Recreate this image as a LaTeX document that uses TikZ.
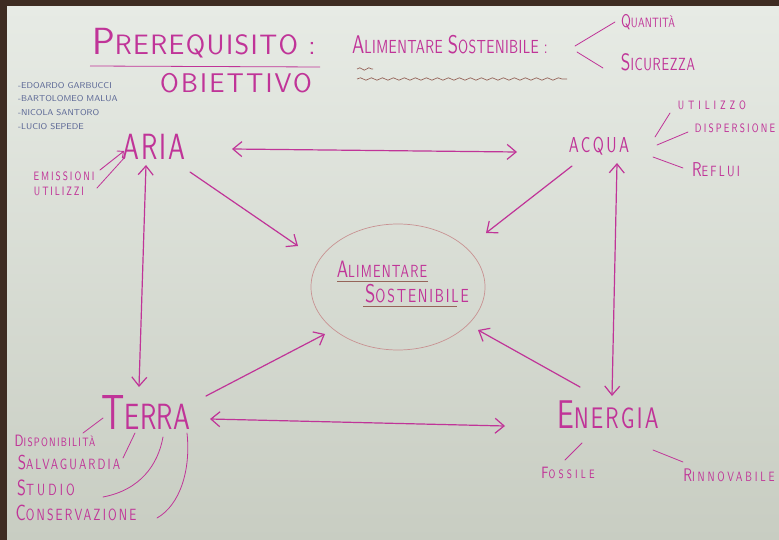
\documentclass[tikz,border=0pt]{standalone}
\usepackage{fontspec}
\setsansfont{Latin Modern Sans}
\usetikzlibrary{arrows.meta}
\usetikzlibrary{shapes.geometric}
\usetikzlibrary{decorations.pathmorphing}

\definecolor{ink}{RGB}{192,52,152}
\definecolor{faint}{RGB}{200,146,146}
\definecolor{names}{RGB}{92,104,150}
\definecolor{brownink}{RGB}{150,100,90}
\definecolor{board}{RGB}{231,235,229}
\definecolor{boardlow}{RGB}{200,205,194}
\definecolor{frame}{RGB}{62,44,34}

\newcommand{\initl}[1]{\scalebox{1.35}{#1}}
\newcommand{\tall}[1]{\scalebox{1}[1.35]{#1}}

\tikzset{
  hand/.style 2 args={text=ink, inner sep=0pt, font=\sffamily\fontsize{#1}{#1}\selectfont\addfontfeature{LetterSpace=#2}},
  who/.style={text=names, inner sep=0pt, anchor=west, font=\sffamily\fontsize{8.5}{9}\selectfont},
  stroke/.style={draw=ink, line width=1.2pt, line cap=round},
  twig/.style={draw=ink, line width=0.8pt, line cap=round},
}

\begin{document}
\begin{tikzpicture}[x=1pt,y=-1pt,>={Straight Barb[length=9pt,width=15pt]}]

  \useasboundingbox (0,0) rectangle (779,540);
  \fill[frame] (0,0) rectangle (779,540);
  \shade[top color=board, bottom color=boardlow] (7,7) rectangle (779,540);

  % heading
  \node[hand={28}{5}, anchor=west] (prereq) at (92,43) {\initl{P}REREQUISITO :};
  \node[hand={27}{8}] (obiett) at (236,83) {OBIETTIVO};
  \draw[draw=ink, line width=0.8pt] (90,66) -- (320,67);

  \node[hand={14}{3}, anchor=west] (alim) at (352,45) {\tall{\initl{A}LIMENTARE \initl{S}OSTENIBILE :}};
  \draw[draw=brownink, line width=0.7pt, decorate, decoration={snake, amplitude=1.2pt, segment length=9pt}] (357,69) -- (373,69);
  \draw[draw=brownink, line width=0.7pt, decorate, decoration={snake, amplitude=1.2pt, segment length=11pt}] (357,79) -- (567,79);

  \node[hand={10}{2}] (qty) at (648,22) {\tall{\initl{Q}UANTITÀ}};
  \node[hand={13}{5}] (sic) at (658,62) {\tall{\initl{S}ICUREZZA}};

  \coordinate (b0) at (575,46);
  \coordinate (b1) at (615,22);
  \coordinate (b2) at (577,52);
  \coordinate (b3) at (603,68);
  \draw[twig] (b0) -- (b1);
  \draw[twig] (b2) -- (b3);

  % group
  \node[who] (n1) at (18,86) {-EDOARDO GARBUCCI};
  \node[who] (n2) at (18,99) {-BARTOLOMEO MALUA};
  \node[who] (n3) at (18,113) {-NICOLA SANTORO};
  \node[who] (n4) at (18,127) {-LUCIO SEPEDE};

  % the four resources
  \node[hand={27}{7}] (aria) at (154,147) {\tall{ARIA}};
  \node[hand={16}{15}] (acqua) at (599,146) {\tall{ACQUA}};
  \node[hand={27}{1}] (terra) at (146,412) {\tall{\initl{T}ERRA}};
  \node[hand={22}{10}] (energia) at (608,415) {\tall{\initl{E}NERGIA}};

  \node[draw=faint, line width=0.7pt, ellipse, minimum width=174pt, minimum height=126pt] (circ) at (398,287) {};
  \node[hand={13}{9}] (alimC) at (382,269) {\tall{\initl{A}LIMENTARE}};
  \node[hand={14}{13}] (sostC) at (417,294) {\tall{\initl{S}OSTENIBILE}};
  \draw[draw=brownink, line width=0.9pt] (337,281) -- (428,281);
  \draw[draw=brownink, line width=0.9pt] (363,306) -- (457,306);

  % aria
  \node[hand={9}{22}] (emiss) at (64,176) {\tall{EMISSIONI}};
  \node[hand={9}{21}] (utili) at (59,191) {\tall{UTILIZZI}};
  \coordinate (e0) at (100,170);
  \coordinate (e1) at (124,151);
  \coordinate (u0) at (97,188);
  \coordinate (u1) at (125,157);
  \draw[stroke, line width=0.9pt, ->, >={Straight Barb[length=5pt,width=9pt]}] (e0) -- (e1);
  \draw[twig] (u0) -- (u1);

  % acqua
  \node[hand={9}{43}] (utilo) at (712,105) {\tall{UTILIZZO}};
  \node[hand={9}{24}] (disp) at (735,128) {\tall{DISPERSIONE}};
  \node[hand={11}{20}] (reflui) at (716,170) {\tall{\initl{R}EFLUI}};
  \coordinate (q0) at (655,137);
  \coordinate (q1) at (670,113);
  \coordinate (q2) at (657,145);
  \coordinate (q3) at (688,132);
  \coordinate (q4) at (653,157);
  \coordinate (q5) at (683,168);
  \draw[twig] (q0) -- (q1);
  \draw[twig] (q2) -- (q3);
  \draw[twig] (q4) -- (q5);

  % terra
  \node[hand={9}{14}] (dispo) at (55,441) {\tall{\initl{D}ISPONIBILITÀ}};
  \node[hand={11}{19}] (salva) at (69,463) {\tall{\initl{S}ALVAGUARDIA}};
  \node[hand={12}{26}] (studio) at (46,488) {\tall{\initl{S}TUDIO}};
  \node[hand={12}{18}] (conserv) at (76,513) {\tall{\initl{C}ONSERVAZIONE}};
  \coordinate (t0) at (83,433);
  \coordinate (t1) at (103,418);
  \coordinate (t2) at (123,458);
  \coordinate (t3) at (135,433);
  \coordinate (t4) at (103,497);
  \coordinate (t5) at (163,437);
  \coordinate (t6) at (157,518);
  \coordinate (t7) at (187,433);
  \draw[twig] (t0) -- (t1);
  \draw[twig] (t2) -- (t3);
  \draw[twig] (t4) .. controls (140,490) and (158,465) .. (t5);
  \draw[twig] (t6) .. controls (180,505) and (191,470) .. (t7);

  % energia
  \node[hand={9}{35}] (fossile) at (568,473) {\tall{\initl{F}OSSILE}};
  \node[hand={10}{28}] (rinnov) at (729,475) {\tall{\initl{R}INNOVABILE}};
  \coordinate (g0) at (565,460);
  \coordinate (g1) at (582,443);
  \coordinate (g2) at (653,450);
  \coordinate (g3) at (683,462);
  \draw[twig] (g0) -- (g1);
  \draw[twig] (g2) -- (g3);

  % links
  \coordinate (a1) at (232,149);
  \coordinate (a2) at (517,152);
  \coordinate (a3) at (190,172);
  \coordinate (a4) at (298,246);
  \coordinate (a5) at (146,165);
  \coordinate (a6) at (139,387);
  \coordinate (c1) at (572,166);
  \coordinate (c2) at (486,233);
  \coordinate (c3) at (617,163);
  \coordinate (c4) at (612,396);
  \coordinate (r1) at (210,419);
  \coordinate (r2) at (505,426);
  \coordinate (r3) at (206,396);
  \coordinate (r4) at (325,334);
  \coordinate (n5) at (580,387);
  \coordinate (n6) at (478,330);

  \draw[stroke, <->] (a1) -- (a2);
  \draw[stroke, ->] (a3) -- (a4);
  \draw[stroke, <->] (a5) -- (a6);
  \draw[stroke, ->] (c1) -- (c2);
  \draw[stroke, <->] (c3) -- (c4);
  \draw[stroke, <->] (r1) -- (r2);
  \draw[stroke, ->] (r3) -- (r4);
  \draw[stroke, ->] (n5) -- (n6);

\end{tikzpicture}
\end{document}
